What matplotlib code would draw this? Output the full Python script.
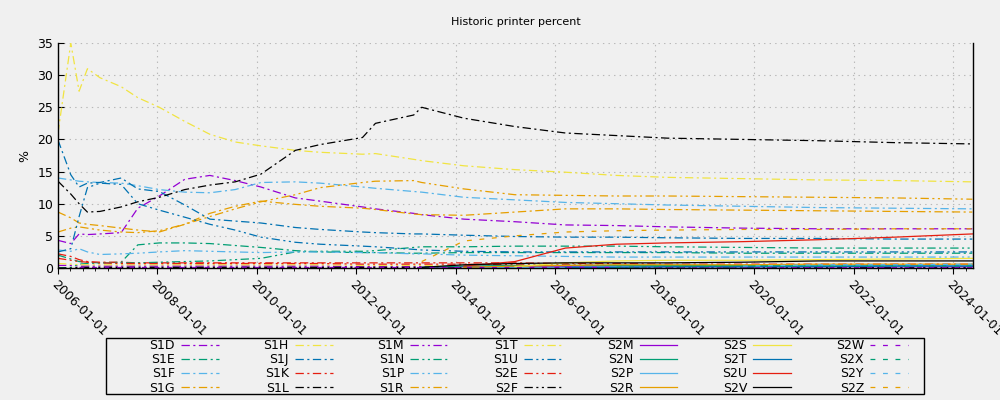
import numpy as np
import pandas as pd
import matplotlib
matplotlib.use("Agg")
import matplotlib.pyplot as plt
import matplotlib.dates as mdates
from matplotlib.patches import Rectangle

nan = np.nan

dates = pd.to_datetime([
    "2006-01-01", "2006-04-05", "2006-06-05", "2006-08-05", "2006-11-05",
    "2007-04-10", "2007-08-10", "2008-01-15", "2008-07-20", "2009-01-20",
    "2009-07-25", "2010-01-30", "2010-10-10", "2011-04-10", "2012-02-15",
    "2012-05-20", "2013-02-25", "2013-04-25", "2014-03-01", "2015-03-10",
    "2016-03-15", "2017-03-25", "2018-04-01", "2019-10-10", "2021-04-20",
    "2022-10-30", "2024-05-20"])

S1D = [4.3, 3.8, 5.3, 5.2, 5.3, 5.5, 9.3, 11.2, 13.8, 14.4, 13.6, 12.6, 10.9, 10.4, 9.5, 9.2, 8.5, 8.3, 7.6, 7.2, 6.7, 6.6, 6.4, 6.2, 6.1, 6.1, 6.1]
S1E = [2.0, 1.4, 1.0, 0.9, 0.8, 0.9, 3.6, 3.9, 3.9, 3.8, 3.5, 3.2, 2.7, 2.5, 2.4, 2.4, 2.3, 2.3, 2.4, 2.4, 2.4, 2.4, 2.4, 2.3, 2.3, 2.3, 2.3]
S1F = [14.0, 13.7, 13.5, 13.4, 13.3, 13.2, 12.8, 12.2, 11.8, 11.7, 12.2, 13.3, 13.4, 13.2, 12.6, 12.4, 11.9, 11.8, 11.0, 10.6, 10.2, 10.0, 9.8, 9.6, 9.4, 9.3, 9.2]
S1G = [8.7, 7.8, 7.0, 6.8, 6.6, 6.2, 5.9, 5.6, 6.8, 8.5, 9.6, 10.4, 9.9, 9.6, 9.3, 9.1, 8.4, 8.3, 8.2, 8.7, 9.2, 9.2, 9.1, 9.0, 8.9, 8.8, 8.7]
S1H = [21.0, 35.0, 27.5, 31.0, 29.6, 28.2, 26.5, 25.0, 22.8, 20.8, 19.6, 19.0, 18.3, 18.0, 17.7, 17.8, 16.9, 16.7, 15.9, 15.3, 14.9, 14.4, 14.1, 13.9, 13.7, 13.6, 13.4]
S1J = [19.9, 14.5, 12.6, 13.2, 13.3, 14.0, 12.3, 11.9, 9.8, 7.6, 7.3, 7.0, 6.3, 6.0, 5.6, 5.5, 5.3, 5.3, 5.1, 4.9, 4.8, 4.8, 4.7, 4.6, 4.6, 4.5, 4.5]
S1K = [2.2, 1.8, 1.3, 1.0, 0.9, 0.9, 0.8, 0.8, 0.8, 0.8, 0.8, 0.8, 0.8, 0.8, 0.8, 0.8, 0.8, 0.8, 0.8, 0.8, 0.7, 0.7, 0.6, 0.6, 0.6, 0.6, 0.6]
S1L = [13.5, 11.5, 10.0, 8.7, 8.8, 9.5, 10.3, 11.0, 12.2, 12.9, 13.4, 14.6, 18.3, 19.2, 20.3, 22.5, 23.8, 25.0, 23.3, 22.0, 21.0, 20.6, 20.2, 20.0, 19.8, 19.5, 19.3]
S1M = [0.4, 0.4, 0.3, 0.3, 0.3, 0.3, 0.3, 0.3, 0.3, 0.3, 0.3, 0.3, 0.3, 0.3, 0.2, 0.2, 0.2, 0.2, 0.2, 0.2, 0.1, 0.1, 0.1, 0.1, 0.1, 0.1, 0.1]
S1N = [0.0, 0.1, 0.6, 0.7, 0.8, 0.8, 0.8, 0.9, 1.0, 1.1, 1.3, 1.5, 2.5, 2.6, 2.6, 2.7, 3.2, 3.3, 3.3, 3.4, 3.4, 3.4, 3.3, 3.2, 3.1, 3.1, 3.1]
S1P = [2.8, 2.6, 3.0, 2.5, 2.1, 2.2, 2.3, 2.5, 2.7, 2.6, 2.5, 2.4, 2.5, 2.5, 2.4, 2.4, 2.2, 2.2, 2.0, 1.9, 1.8, 1.7, 1.7, 1.7, 1.7, 1.7, 1.7]
S1R = [5.6, 6.2, 6.4, 6.2, 5.9, 5.6, 5.5, 5.8, 6.8, 8.0, 9.2, 10.3, 11.4, 12.5, 13.3, 13.5, 13.6, 13.3, 12.3, 11.4, 11.3, 11.2, 11.2, 11.1, 11.0, 10.9, 10.7]
S1T = [0.7, 0.6, 0.5, 0.5, 0.5, 0.5, 0.5, 0.5, 0.5, 0.5, 0.5, 0.5, 0.5, 0.5, 0.4, 0.4, 0.4, 0.4, 0.3, 0.3, 0.3, 0.3, 0.3, 0.3, 0.3, 0.3, 0.3]
S1U = [2.5, 3.0, 8.0, 12.5, 13.2, 13.0, 10.0, 9.0, 7.9, 6.8, 5.9, 4.8, 4.0, 3.7, 3.4, 3.3, 2.9, 2.8, 2.6, 2.5, 2.5, 2.5, 2.5, 2.5, 2.5, 2.5, 2.5]
S2E = [1.5, 1.2, 1.0, 0.9, 0.8, 0.7, 0.7, 0.7, 0.7, 0.7, 0.7, 0.7, 0.7, 0.7, 0.6, 0.6, 0.6, 0.6, 0.6, 0.5, 0.5, 0.4, 0.4, 0.4, 0.4, 0.4, 0.4]
S2F = [0.0, 0.0, 0.1, 0.1, 0.1, 0.1, 0.1, 0.1, 0.1, 0.1, 0.1, 0.1, 0.1, 0.1, 0.1, 0.1, 0.1, 0.1, 0.1, 0.1, 0.1, 0.1, 0.1, 0.1, 0.1, 0.1, 0.1]
S2M = [nan] * 17 + [0.1, 0.2, 0.2, 0.2, 0.2, 0.2, 0.2, 0.2, 0.2, 0.2]
S2N = [nan] * 17 + [0.1, 0.3, 0.4, 0.4, 0.4, 0.4, 0.4, 0.4, 0.4, 0.4]
S2P = [nan] * 18 + [0.0, 0.1, 0.1, 0.2, 0.2, 0.2, 0.3, 0.3, 0.4]
S2R = [nan] * 18 + [0.1, 0.3, 0.4, 0.5, 0.5, 0.5, 0.6, 0.6, 0.6]
S2S = [nan] * 19 + [0.2, 0.8, 1.1, 1.2, 1.2, 1.3, 1.4, 1.5]
S2T = [nan] * 20 + [0.1, 0.1, 0.2, 0.2, 0.2, 0.3, 0.3]
S2U = [nan] * 18 + [0.3, 1.0, 3.1, 3.7, 3.9, 4.1, 4.4, 4.8, 5.3]
S2V = [nan] * 17 + [0.1, 0.5, 0.7, 0.8, 0.8, 0.8, 0.9, 1.1, 1.1, 1.1]
S2W = [nan, nan, 0.2, 0.2, 0.2, 0.2, 0.2, 0.2, 0.2, 0.2, 0.2, 0.2, 0.2, 0.2, 0.2, 0.2, 0.2, 0.2, 0.2, 0.2, 0.2, 0.2, 0.2, 0.2, 0.2, 0.2, 0.2]
S2X = [nan] * 21 + [0.1, 0.2, 0.2, 0.3, 0.3, 0.3]
S2Y = [nan] * 23 + [0.3, 0.5, 0.5, 0.6]
S2Z = [nan] * 17 + [1.0, 4.2, 5.0, 5.6, 5.8, 5.9, 6.0, 6.0, 6.1, 6.1]

names = ["S1D", "S1E", "S1F", "S1G", "S1H", "S1J", "S1K", "S1L",
         "S1M", "S1N", "S1P", "S1R", "S1T", "S1U", "S2E", "S2F",
         "S2M", "S2N", "S2P", "S2R", "S2S", "S2T", "S2U", "S2V",
         "S2W", "S2X", "S2Y", "S2Z"]
series = [S1D, S1E, S1F, S1G, S1H, S1J, S1K, S1L,
          S1M, S1N, S1P, S1R, S1T, S1U, S2E, S2F,
          S2M, S2N, S2P, S2R, S2S, S2T, S2U, S2V,
          S2W, S2X, S2Y, S2Z]

colors = ["#9400d3", "#009e73", "#56b4e9", "#e69f00",
          "#f0e442", "#0072b2", "#e51e10", "#000000"]
styles = [(0, (6, 2.5, 1.5, 2.5)),
          (0, (6, 2.5, 1.5, 2.5, 1.5, 2.5)),
          "-",
          (0, (3.5, 5.5))]

plt.rcParams["lines.scale_dashes"] = False
plt.rcParams["font.family"] = "DejaVu Sans"

fig = plt.figure(figsize=(10, 4), dpi=100, facecolor="#f0f0f0")
ax = fig.add_axes([0.058, 0.33, 0.915, 0.5625])
ax.set_facecolor("#f0f0f0")

for i, (name, vals) in enumerate(zip(names, series)):
    ax.plot(dates, vals, color=colors[i % 8], linestyle=styles[i // 8],
            linewidth=0.9, label=name)

ax.set_xlim(pd.Timestamp("2006-01-01"), pd.Timestamp("2024-05-25"))
ax.set_ylim(0, 35)
ax.set_yticks(range(0, 36, 5))
ax.xaxis.set_major_locator(mdates.YearLocator(2))
ax.xaxis.set_major_formatter(mdates.DateFormatter("%Y-%m-%d"))
ax.xaxis.set_minor_locator(mdates.MonthLocator(bymonth=[1, 4, 7, 10]))
for lbl in ax.get_xticklabels():
    lbl.set_rotation(-45)
    lbl.set_ha("left")
    lbl.set_va("top")
    lbl.set_rotation_mode("anchor")

ax.tick_params(axis="x", which="major", direction="out", length=4, labelsize=9, pad=3)
ax.tick_params(axis="x", which="minor", direction="out", length=2)
ax.tick_params(axis="y", direction="in", length=4, labelsize=9)
ax.grid(True, which="major", color="#b8b8b8", linestyle=(0, (1, 3)), linewidth=0.8)
ax.spines["top"].set_visible(False)
for s in ["left", "bottom", "right"]:
    ax.spines[s].set_linewidth(1.0)

ax.set_ylabel("%", fontsize=9)
fig.text(0.516, 0.945, "Historic printer percent", ha="center", va="center", fontsize=8)

# legend box drawn separately, gnuplot style with padding on the left
fig.patches.append(Rectangle((0.106, 0.015), 0.818, 0.14, transform=fig.transFigure,
                             facecolor="none", edgecolor="black", linewidth=1.0))
fig.legend(loc="center", bbox_to_anchor=(0.5285, 0.083), ncol=7, fontsize=9,
           markerfirst=False, handlelength=3.0, handletextpad=0.5,
           columnspacing=3.6, labelspacing=0.1, borderpad=0.1,
           frameon=False)

fig.savefig("out.png", dpi=100, facecolor=fig.get_facecolor())
